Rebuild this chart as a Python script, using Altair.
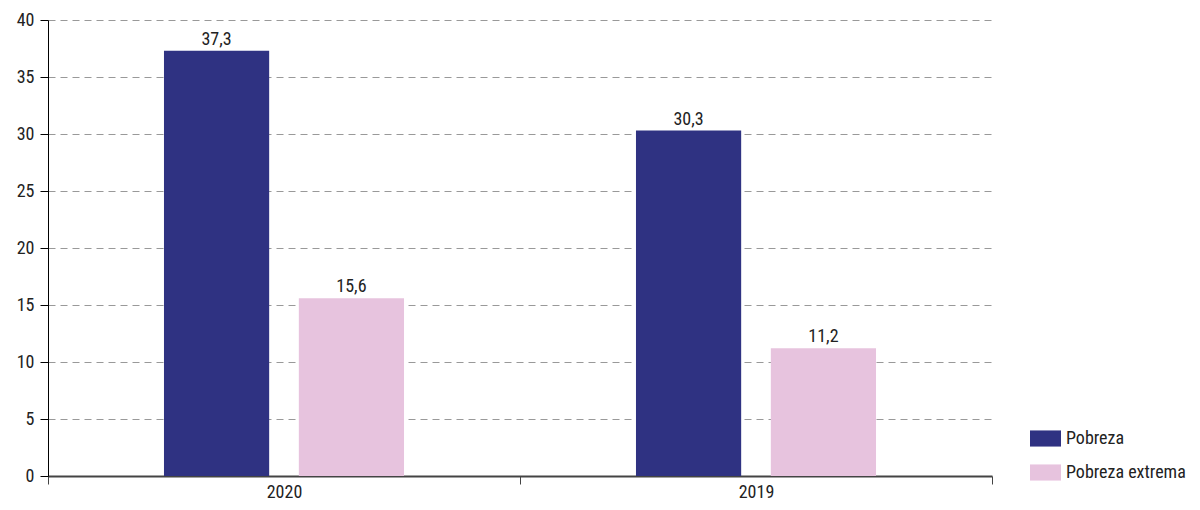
import altair as alt
import pandas as pd

years = ["2020", "2019"]
series = ["Pobreza", "Pobreza extrema"]
pobreza = [37.3, 30.3]
pobreza_extrema = [15.6, 11.2]
colors = ["#2F3282", "#E7C3DE"]
y_ticks = [0, 5, 10, 15, 20, 25, 30, 35, 40]

rows = []
for i, yr in enumerate(years):
    rows.append({"year": yr, "serie": series[0], "value": pobreza[i]})
    rows.append({"year": yr, "serie": series[1], "value": pobreza_extrema[i]})
df = pd.DataFrame(rows)

FONT = "Liberation Sans Narrow, Roboto Condensed, Roboto, sans-serif"
FS = 18

base = alt.Chart(df).transform_calculate(
    label="replace(format(datum.value, '.1f'), '.', ',')"
)

x = alt.X("year:N", sort=years, title=None,
          scale=alt.Scale(paddingInner=0, paddingOuter=0),
          axis=alt.Axis(labelAngle=0, tickBand="extent", domainColor="#444",
                        tickColor="#444", tickSize=8, labelFontSize=FS,
                        labelColor="#222", labelFont=FONT, labelPadding=-1,
                        domainWidth=2))
xo = alt.XOffset("serie:N", sort=series,
                 scale=alt.Scale(paddingInner=0.22, paddingOuter=0.86))
y = alt.Y("value:Q", title=None,
          scale=alt.Scale(domain=[0, 40], nice=False),
          axis=alt.Axis(values=y_ticks, grid=True, gridDash=[7, 5],
                        gridColor="#999", domainColor="#000", tickColor="#000",
                        tickSize=8, labelFontSize=FS, labelColor="#222",
                        labelFont=FONT, labelPadding=6))

bars = base.mark_bar().encode(
    x=x, xOffset=xo, y=y,
    color=alt.Color("serie:N", sort=series,
                    scale=alt.Scale(domain=series, range=colors),
                    legend=alt.Legend(title=None, orient="none",
                                      legendX=982, legendY=403,
                                      symbolType="M-1,-0.52H1V0.52H-1Z",
                                      symbolSize=961, symbolStrokeWidth=0,
                                      labelFontSize=FS, labelFont=FONT,
                                      labelColor="#222", rowPadding=9,
                                      labelOffset=5))
)

text = base.mark_text(dy=-11, fontSize=FS, font=FONT, color="#222").encode(
    x=alt.X("year:N", sort=years), xOffset=alt.XOffset("serie:N", sort=series),
    y="value:Q", text="label:N"
)

chart = (bars + text).properties(
    width=944, height=456,
    autosize=alt.AutoSizeParams(type="none"),
    padding={"left": 40, "top": 12, "right": 200, "bottom": 26}
).configure_view(stroke=None)

chart.save("out.html", embed_options={"renderer": "svg", "actions": False})
